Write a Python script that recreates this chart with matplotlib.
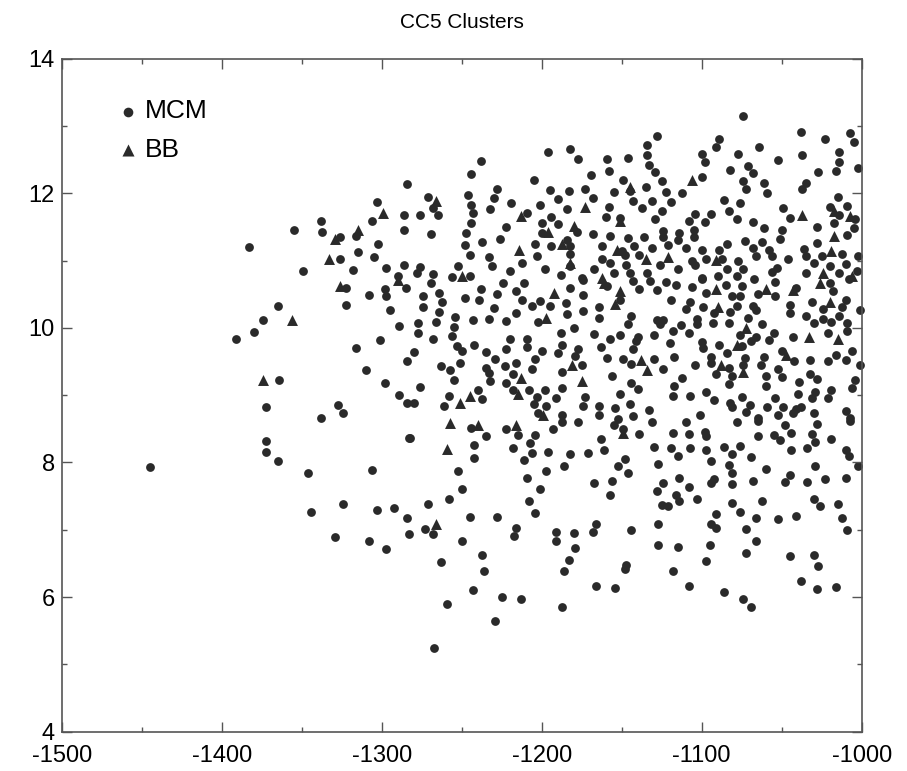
import matplotlib
matplotlib.use("Agg")
import matplotlib.pyplot as plt
from matplotlib.ticker import MultipleLocator

# MCM cluster energies (x) vs. size measure (y)
mcm_pts = [
    (-1284, 12.13), (-1303, 11.87), (-1286, 11.67), (-1286, 11.46), (-1306, 11.59), (-1338, 11.58),
    (-1355, 11.45), (-1337, 11.42), (-1326, 11.35), (-1316, 11.36), (-1383, 11.20), (-1326, 11.03),
    (-1315, 11.13), (-1302, 11.25), (-1305, 11.05), (-1297, 10.89), (-1286, 10.93), (-1318, 10.86),
    (-1349, 10.84), (-1290, 10.77),
    (-1238, 12.48), (-1244, 12.28), (-1196, 12.61), (-1182, 12.65), (-1177, 12.51), (-1205, 12.20),
    (-1169, 12.27), (-1159, 12.51), (-1146, 12.52), (-1158, 12.33), (-1134, 12.71), (-1128, 12.85),
    (-1134, 12.57), (-1133, 12.42), (-1129, 12.31), (-1149, 12.20), (-1145, 12.03), (-1135, 12.09),
    (-1155, 12.02), (-1173, 12.06), (-1168, 11.93), (-1183, 12.04), (-1190, 11.92), (-1195, 12.05),
    (-1228, 12.06), (-1230, 11.93), (-1232, 11.76), (-1219, 11.86), (-1246, 11.97), (-1244, 11.83),
    (-1243, 11.70), (-1244, 11.56), (-1271, 11.95), (-1268, 11.78), (-1265, 11.67), (-1276, 11.67),
    (-1269, 11.40), (-1247, 11.41), (-1248, 11.23), (-1245, 11.08), (-1237, 11.28), (-1226, 11.32),
    (-1222, 11.50), (-1209, 11.71), (-1201, 11.82), (-1194, 11.65), (-1200, 11.56), (-1190, 11.54),
    (-1200, 11.41), (-1184, 11.76), (-1178, 11.42), (-1160, 11.65), (-1158, 11.80), (-1151, 11.63),
    (-1143, 11.88), (-1137, 11.78), (-1131, 11.88), (-1129, 11.61), (-1168, 11.40), (-1157, 11.36),
    (-1146, 11.33), (-1136, 11.35), (-1162, 11.21), (-1142, 11.22), (-1131, 11.19), (-1150, 11.14),
    (-1148, 11.08), (-1139, 11.08), (-1162, 11.02), (-1157, 10.97), (-1147, 10.94), (-1167, 10.87),
    (-1155, 10.82), (-1145, 10.81), (-1134, 10.82), (-1204, 11.24), (-1203, 11.06), (-1194, 11.21),
    (-1184, 11.31), (-1182, 11.21), (-1182, 11.10), (-1182, 10.92), (-1212, 10.97), (-1233, 11.05),
    (-1231, 10.92), (-1220, 10.84), (-1198, 10.87), (-1188, 10.78), (-1252, 10.92), (-1256, 10.75),
    (-1245, 10.77), (-1276, 10.90), (-1278, 10.81), (-1268, 10.80), (-1175, 10.74),
    (-1074, 13.15), (-1089, 12.81), (-1091, 12.68), (-1064, 12.69), (-1077, 12.58), (-1100, 12.58),
    (-1098, 12.47), (-1052, 12.50), (-1038, 12.91), (-1037, 12.57), (-1023, 12.81), (-1007, 12.89),
    (-1005, 12.76), (-1014, 12.61), (-1014, 12.46), (-1002, 12.38), (-1016, 12.33), (-1027, 12.31),
    (-1071, 12.41), (-1068, 12.30), (-1082, 12.34), (-1100, 12.24), (-1125, 12.18), (-1122, 12.02),
    (-1112, 12.00), (-1074, 12.18), (-1072, 12.06), (-1061, 12.15), (-1059, 12.00), (-1035, 12.15),
    (-1037, 12.06), (-1119, 11.87), (-1125, 11.73), (-1086, 11.90), (-1076, 11.86), (-1083, 11.73),
    (-1094, 11.69), (-1104, 11.69), (-1078, 11.62), (-1108, 11.58), (-1098, 11.57), (-1068, 11.57),
    (-1061, 11.48), (-1049, 11.78), (-1045, 11.63), (-1050, 11.46), (-1051, 11.32), (-1028, 11.50),
    (-1028, 11.26), (-1015, 11.94), (-1020, 11.80), (-1014, 11.67), (-1009, 11.81), (-1004, 11.62),
    (-1017, 11.56), (-1005, 11.49), (-1009, 11.38), (-1012, 11.09), (-1002, 11.06), (-1010, 10.95),
    (-1003, 10.84), (-1020, 10.92), (-1014, 10.82), (-1025, 11.07), (-1036, 11.17), (-1035, 11.06),
    (-1030, 10.97), (-1035, 10.82), (-1046, 11.02), (-1053, 10.89), (-1056, 10.83), (-1056, 11.06),
    (-1058, 11.15), (-1062, 11.27), (-1068, 11.19), (-1066, 11.06), (-1073, 11.29), (-1077, 10.99),
    (-1074, 10.87), (-1084, 11.25), (-1089, 11.15), (-1087, 11.02), (-1084, 10.88), (-1078, 10.77),
    (-1090, 10.77), (-1100, 11.15), (-1097, 11.03), (-1106, 10.99), (-1104, 10.93), (-1114, 11.41),
    (-1115, 11.31), (-1105, 11.46), (-1105, 11.35), (-1124, 11.44), (-1124, 11.35), (-1121, 11.23),
    (-1110, 11.19), (-1126, 10.93), (-1115, 10.87), (-1100, 10.74),
    (-1322, 10.59), (-1308, 10.49), (-1298, 10.58), (-1297, 10.48), (-1285, 10.59), (-1365, 10.33),
    (-1374, 10.12), (-1380, 9.94), (-1391, 9.84), (-1322, 10.34), (-1295, 10.27), (-1289, 10.02),
    (-1301, 9.82), (-1316, 9.70), (-1284, 9.50), (-1310, 9.38), (-1298, 9.18), (-1289, 9.00),
    (-1364, 9.22), (-1372, 8.83), (-1327, 8.86), (-1324, 8.74), (-1338, 8.66), (-1284, 8.89),
    (-1269, 10.66), (-1238, 10.57), (-1239, 10.42), (-1248, 10.44), (-1264, 10.52), (-1262, 10.38),
    (-1274, 10.48), (-1274, 10.31), (-1264, 10.24), (-1254, 10.16), (-1266, 10.08), (-1277, 10.07),
    (-1277, 9.92), (-1268, 9.84), (-1255, 10.01), (-1256, 9.88), (-1243, 10.11), (-1233, 10.13),
    (-1230, 10.30), (-1228, 10.51), (-1224, 10.67), (-1216, 10.54), (-1211, 10.67), (-1212, 10.41),
    (-1216, 10.22), (-1222, 10.10), (-1206, 10.32), (-1201, 10.40), (-1195, 10.33), (-1202, 10.08),
    (-1185, 10.37), (-1184, 10.20), (-1182, 10.59), (-1174, 10.71), (-1174, 10.49), (-1174, 10.25),
    (-1180, 10.00), (-1188, 9.92), (-1187, 9.75), (-1190, 9.62), (-1164, 10.31), (-1164, 10.14),
    (-1159, 10.62), (-1143, 10.69), (-1139, 10.58), (-1151, 10.41), (-1132, 10.69), (-1128, 10.56),
    (-1144, 10.17), (-1146, 10.06), (-1128, 10.12), (-1130, 9.90), (-1140, 9.87), (-1141, 9.80),
    (-1151, 9.89), (-1157, 9.84), (-1167, 9.91), (-1163, 9.71), (-1143, 9.68), (-1159, 9.55),
    (-1149, 9.54), (-1144, 9.46), (-1130, 9.53), (-1177, 9.69), (-1179, 9.58), (-1175, 9.45),
    (-1187, 9.34), (-1187, 9.11), (-1191, 8.96), (-1220, 9.84), (-1222, 9.69), (-1209, 9.84),
    (-1209, 9.72), (-1200, 9.65), (-1204, 9.53), (-1206, 9.39), (-1216, 9.48), (-1223, 9.43),
    (-1229, 9.54), (-1235, 9.64), (-1242, 9.74), (-1253, 9.73), (-1250, 9.65), (-1280, 9.64),
    (-1251, 9.48), (-1263, 9.44), (-1257, 9.37), (-1255, 9.22), (-1235, 9.41), (-1233, 9.33),
    (-1232, 9.21), (-1222, 9.18), (-1218, 9.31), (-1218, 9.08), (-1208, 9.07), (-1203, 8.97),
    (-1198, 9.07), (-1205, 8.87), (-1197, 8.84), (-1202, 8.74), (-1187, 8.71), (-1173, 8.97),
    (-1174, 8.84), (-1164, 8.84), (-1164, 8.71), (-1156, 9.29), (-1151, 9.02), (-1144, 9.18),
    (-1140, 9.09), (-1145, 8.87), (-1154, 8.81), (-1143, 8.69), (-1133, 8.78), (-1276, 9.12),
    (-1280, 8.89), (-1258, 8.98), (-1261, 8.84), (-1240, 9.08), (-1237, 8.94),
    (-1122, 10.68), (-1116, 10.64), (-1106, 10.61), (-1100, 10.72), (-1085, 10.64), (-1081, 10.48),
    (-1097, 10.52), (-1075, 10.62), (-1076, 10.47), (-1067, 10.72), (-1065, 10.51), (-1054, 10.47),
    (-1054, 10.68), (-1041, 10.59), (-1020, 10.66), (-1018, 10.54), (-1008, 10.72), (-1119, 10.41),
    (-1107, 10.39), (-1110, 10.28), (-1099, 10.31), (-1092, 10.22), (-1082, 10.23), (-1078, 10.33),
    (-1068, 10.32), (-1066, 10.26), (-1045, 10.34), (-1045, 10.22), (-1031, 10.38), (-1024, 10.28),
    (-1012, 10.31), (-1010, 10.41), (-1001, 10.26), (-1124, 10.12), (-1126, 10.05), (-1113, 10.04),
    (-1118, 9.95), (-1108, 9.92), (-1103, 10.13), (-1103, 10.06), (-1093, 10.07), (-1083, 10.07),
    (-1071, 10.15), (-1062, 10.05), (-1076, 9.90), (-1066, 9.87), (-1069, 9.80), (-1058, 9.82),
    (-1055, 9.93), (-1043, 9.87), (-1035, 10.17), (-1030, 10.07), (-1024, 10.13), (-1019, 10.08),
    (-1014, 10.17), (-1009, 10.07), (-1009, 9.95), (-1021, 9.93), (-1100, 9.79), (-1099, 9.70),
    (-1089, 9.75), (-1120, 9.77), (-1124, 9.39), (-1117, 9.57), (-1084, 9.63), (-1075, 9.73),
    (-1073, 9.55), (-1074, 9.45), (-1094, 9.57), (-1094, 9.48), (-1104, 9.45), (-1083, 9.40),
    (-1091, 9.32), (-1081, 9.29), (-1083, 9.17), (-1112, 9.26), (-1117, 9.13), (-1118, 8.99),
    (-1107, 8.99), (-1097, 9.05), (-1092, 8.93), (-1082, 8.88), (-1081, 8.82), (-1075, 8.97),
    (-1070, 8.86), (-1072, 8.75), (-1101, 8.70), (-1061, 9.57), (-1063, 9.45), (-1060, 9.29),
    (-1060, 9.13), (-1052, 9.39), (-1050, 9.27), (-1050, 9.65), (-1042, 9.50), (-1032, 9.52),
    (-1021, 9.50), (-1016, 9.60), (-1010, 9.52), (-1006, 9.65), (-1001, 9.45), (-1032, 9.32),
    (-1028, 9.24), (-1039, 9.19), (-1040, 9.02), (-1029, 9.04), (-1031, 8.96), (-1019, 9.07),
    (-1021, 8.96), (-1004, 9.23), (-1006, 9.11), (-1054, 8.96), (-1049, 8.83), (-1059, 8.82),
    (-1052, 8.70), (-1041, 8.79), (-1038, 8.83), (-1043, 8.73), (-1030, 8.73), (-1010, 8.77),
    (-1007, 8.66), (-1065, 8.66),
    (-1372, 8.32), (-1372, 8.15), (-1365, 8.02), (-1445, 7.93), (-1346, 7.84), (-1306, 7.89),
    (-1283, 8.36), (-1344, 7.26), (-1324, 7.39), (-1303, 7.30), (-1292, 7.33), (-1284, 7.18),
    (-1329, 6.89), (-1308, 6.84), (-1297, 6.72), (-1283, 6.93),
    (-1244, 8.51), (-1235, 8.40), (-1282, 8.36), (-1242, 8.26), (-1242, 8.06), (-1252, 7.87),
    (-1250, 7.60), (-1258, 7.45), (-1271, 7.38), (-1273, 7.01), (-1268, 6.93), (-1250, 6.84),
    (-1245, 7.19), (-1228, 7.19), (-1237, 6.63), (-1222, 8.50), (-1215, 8.41), (-1218, 8.22),
    (-1207, 8.29), (-1206, 8.14), (-1204, 8.41), (-1211, 8.03), (-1187, 8.60), (-1177, 8.60),
    (-1193, 8.49), (-1196, 8.16), (-1182, 8.12), (-1171, 8.14), (-1163, 8.35), (-1161, 8.18),
    (-1155, 8.55), (-1152, 8.64), (-1149, 8.49), (-1139, 8.43), (-1131, 8.60), (-1130, 8.23),
    (-1127, 7.98), (-1148, 8.05), (-1152, 7.94), (-1146, 7.84), (-1156, 7.73), (-1167, 7.69),
    (-1157, 7.52), (-1128, 7.57), (-1186, 7.94), (-1197, 7.88), (-1209, 7.77), (-1201, 7.61),
    (-1208, 7.42), (-1204, 7.25), (-1216, 7.02), (-1217, 6.90), (-1191, 6.97), (-1191, 6.84),
    (-1180, 6.95), (-1179, 6.73), (-1166, 7.09), (-1168, 6.97), (-1144, 7.00), (-1127, 7.08),
    (-1127, 6.78),
    (-1110, 8.60), (-1078, 8.60), (-1065, 8.62), (-1048, 8.55), (-1028, 8.57), (-1007, 8.62),
    (-1118, 8.44), (-1108, 8.43), (-1098, 8.45), (-1097, 8.40), (-1065, 8.39), (-1055, 8.41),
    (-1051, 8.34), (-1044, 8.44), (-1031, 8.43), (-1029, 8.30), (-1019, 8.35), (-1119, 8.22),
    (-1107, 8.22), (-1097, 8.19), (-1086, 8.23), (-1081, 8.13), (-1076, 8.25), (-1115, 8.09),
    (-1069, 8.08), (-1044, 8.19), (-1034, 8.22), (-1010, 8.18), (-1008, 8.09), (-1094, 8.02),
    (-1083, 7.96), (-1081, 7.85), (-1060, 7.91), (-1029, 7.94), (-1002, 7.94), (-1114, 7.77),
    (-1092, 7.76), (-1094, 7.69), (-1081, 7.68), (-1068, 7.72), (-1045, 7.81), (-1048, 7.71),
    (-1034, 7.71), (-1023, 7.75), (-1010, 7.77), (-1124, 7.69), (-1108, 7.63), (-1116, 7.51),
    (-1114, 7.42), (-1103, 7.46), (-1125, 7.37), (-1121, 7.35), (-1081, 7.40), (-1076, 7.27),
    (-1062, 7.42), (-1030, 7.45), (-1026, 7.35), (-1015, 7.38), (-1091, 7.23), (-1094, 7.08),
    (-1091, 7.02), (-1066, 7.17), (-1072, 7.01), (-1052, 7.16), (-1041, 7.21), (-1012, 7.18),
    (-1009, 6.99), (-1115, 6.75), (-1095, 6.78), (-1066, 6.83), (-1072, 6.66), (-1045, 6.61),
    (-1030, 6.62),
    (-1263, 6.52), (-1236, 6.38), (-1243, 6.10), (-1259, 5.90), (-1225, 6.00), (-1213, 5.97),
    (-1229, 5.65), (-1267, 5.24), (-1183, 6.55), (-1186, 6.38), (-1187, 5.85), (-1166, 6.17),
    (-1154, 6.13), (-1147, 6.47), (-1148, 6.41),
    (-1118, 6.38), (-1097, 6.54), (-1108, 6.16), (-1086, 6.07), (-1074, 5.97), (-1069, 5.85),
    (-1027, 6.46), (-1038, 6.24), (-1028, 6.12), (-1016, 6.15),
]

# BB (big bang) clusters
bb_pts = [
    (-1299, 11.71), (-1329, 11.32), (-1315, 11.45), (-1333, 11.02),
    (-1266, 11.89), (-1213, 11.66), (-1196, 11.43), (-1173, 11.80), (-1180, 11.52), (-1151, 11.58),
    (-1145, 12.09), (-1153, 11.15), (-1135, 11.02), (-1214, 11.15), (-1187, 11.24), (-1182, 10.96),
    (-1250, 10.77), (-1162, 10.74),
    (-1106, 12.20), (-1037, 11.68), (-1017, 11.73), (-1007, 11.66), (-1017, 11.36), (-1019, 11.14),
    (-1006, 10.77), (-1024, 10.82), (-1091, 11.01), (-1121, 11.05),
    (-1326, 10.62), (-1290, 10.71), (-1356, 10.11), (-1374, 9.22),
    (-1192, 10.52), (-1197, 10.15), (-1161, 10.67), (-1151, 10.54), (-1154, 10.35), (-1138, 9.52),
    (-1134, 9.38), (-1181, 9.45), (-1175, 9.21), (-1213, 9.26), (-1215, 9.02), (-1251, 8.88),
    (-1245, 8.98),
    (-1091, 10.57), (-1060, 10.58), (-1043, 10.56), (-1026, 10.67), (-1090, 10.31), (-1020, 10.39),
    (-1072, 10.00), (-1033, 9.86), (-1015, 9.83), (-1078, 9.75), (-1088, 9.45), (-1074, 9.35),
    (-1047, 9.59),
    (-1257, 8.58), (-1240, 8.56), (-1259, 8.20), (-1266, 7.08), (-1216, 8.55), (-1149, 8.44),
    (-1199, 8.70),
]

series_labels = ["MCM", "BB"]
title = "CC5 Clusters"

plt.rcParams["font.family"] = ["Liberation Sans", "DejaVu Sans"]
plt.rcParams["axes.unicode_minus"] = False

fig = plt.figure(figsize=(9.07, 7.71), dpi=100)
ax = fig.add_axes([0.068, 0.051, 0.882, 0.873])

mx, my = zip(*mcm_pts)
bx, by = zip(*bb_pts)
ax.scatter(mx, my, s=40, marker="o", color="#2a2a2a", linewidths=0, label=series_labels[0], clip_on=False)
ax.scatter(bx, by, s=62, marker="^", color="#2a2a2a", linewidths=0, label=series_labels[1], clip_on=False)

ax.set_xlim(-1500, -1000)
ax.set_ylim(4, 14)
ax.xaxis.set_major_locator(MultipleLocator(100))
ax.xaxis.set_minor_locator(MultipleLocator(50))
ax.yaxis.set_major_locator(MultipleLocator(2))
ax.yaxis.set_minor_locator(MultipleLocator(1))
ax.tick_params(which="both", direction="in", top=True, right=True, labelsize=17, color="#555555")
ax.tick_params(which="major", length=7, width=1)
ax.tick_params(axis="x", which="major", pad=9.5)
ax.tick_params(axis="y", which="major", pad=5)
ax.tick_params(which="minor", length=3.5, width=1)
for s in ax.spines.values():
    s.set_color("#555555")
    s.set_linewidth(1.2)

ax.set_title(title, fontsize=15, pad=22)
ax.legend(loc="upper left", bbox_to_anchor=(0.055, 0.955), frameon=False, fontsize=19,
          handletextpad=0.2, labelspacing=0.55, borderaxespad=0, handlelength=0.9,
          markerscale=1.1)

fig.savefig("out.png", dpi=100)
plt.close(fig)
